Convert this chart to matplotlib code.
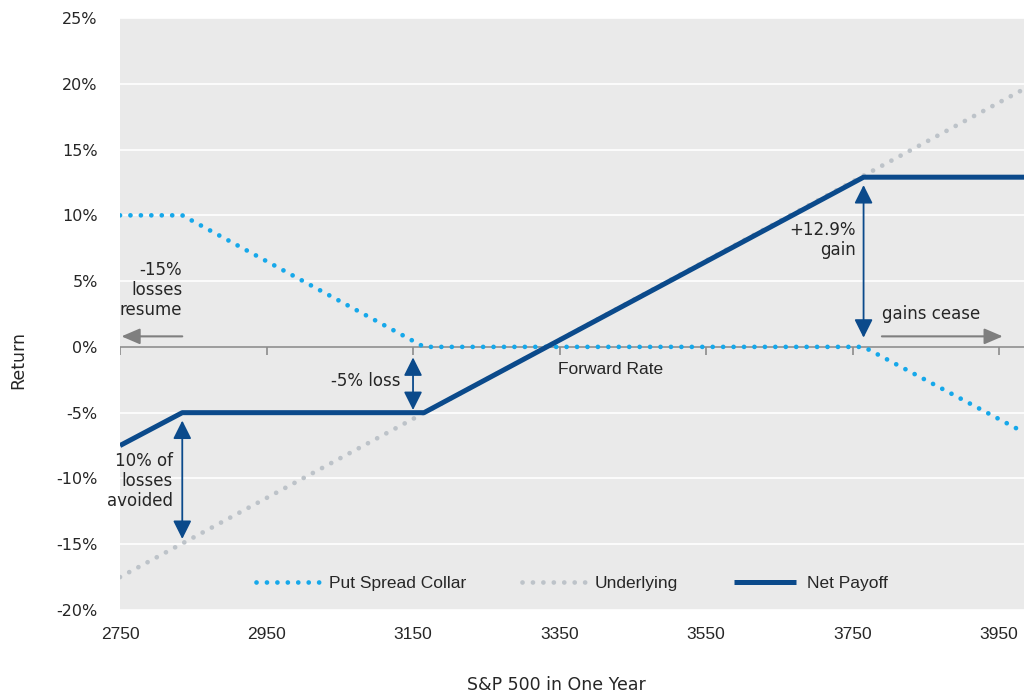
import matplotlib.pyplot as plt

# values (S&P 500 level, return in %)
underlying_x = [2750, 3984]
underlying_y = [-17.5, 19.6]
collar_x = [2750, 2835, 3165, 3765, 3984]
collar_y = [10, 10, 0, 0, -6.5]
payoff_x = [2750, 2835, 3165, 3765, 3984]
payoff_y = [-7.5, -5, -5, 12.9, 12.9]

x_ticks = [2750, 2950, 3150, 3350, 3550, 3750, 3950]
y_ticks = [-20, -15, -10, -5, 0, 5, 10, 15, 20, 25]

narrow = ['Liberation Sans', 'DejaVu Sans']
plt.rcParams['font.family'] = ['DejaVu Sans']

dark = '#0B4A8B'
light = '#16A8EA'
grey = '#BDC3C9'
arrow_grey = '#7F7F7F'
txt = '#262626'

fig = plt.figure(figsize=(10.24, 6.96), dpi=100)
ax = fig.add_axes([120 / 1024, 86 / 696, 904 / 1024, 592 / 696])
ax.set_facecolor('#EAEAEA')

for y in y_ticks:
    ax.axhline(y, color='white', lw=1.2, zorder=0)

ax.plot(collar_x, collar_y, color=light, lw=3.4, linestyle=(0, (0.01, 2.2)),
        dash_capstyle='round', label='Put Spread Collar', zorder=3)
ax.plot(underlying_x, underlying_y, color=grey, lw=3.4, linestyle=(0, (0.01, 2.2)),
        dash_capstyle='round', label='Underlying', zorder=2)
ax.plot(payoff_x, payoff_y, color=dark, lw=3.6, label='Net Payoff', zorder=4,
        solid_capstyle='butt')

ax.set_xlim(2750, 3984)
ax.set_ylim(-20, 25)

# axis line through zero with small ticks
ax.axhline(0, color='#8C8C8C', lw=1.2, zorder=1)
ax.vlines(x_ticks, -0.6, 0, color='#8C8C8C', lw=1.2, zorder=1)

ax.set_xticks(x_ticks)
ax.set_xticklabels([str(v) for v in x_ticks], fontfamily=narrow, fontsize=12.5, color=txt)
ax.set_yticks(y_ticks)
ax.set_yticklabels([f'{v}%' for v in y_ticks], fontsize=11.5, color=txt)
ax.tick_params(axis='both', length=0)
ax.tick_params(axis='y', pad=16)
ax.tick_params(axis='x', pad=12)
for s in ax.spines.values():
    s.set_visible(False)

fig.text(18 / 1024, 1 - 360 / 696, 'Return', rotation=90, ha='center', va='center',
         fontsize=12.5, color=txt)
fig.text(556 / 1024, 1 - 685 / 696, 'S&P 500 in One Year', ha='center', va='center',
         fontsize=12.5, color=txt)

# annotations
arrow_kw = dict(arrowstyle='<|-|>,head_length=0.7,head_width=0.35', color=dark, lw=1.3,
                mutation_scale=16, shrinkA=0, shrinkB=0)
ax.annotate('', xy=(2835, -5.6), xytext=(2835, -14.6), arrowprops=arrow_kw, zorder=5)
ax.annotate('', xy=(3150, -0.8), xytext=(3150, -4.8), arrowprops=arrow_kw, zorder=5)
ax.annotate('', xy=(3765, 12.3), xytext=(3765, 0.7), arrowprops=arrow_kw, zorder=5)

gkw = dict(arrowstyle='-|>,head_length=0.7,head_width=0.3', color=arrow_grey, lw=1.5,
           mutation_scale=16, shrinkA=0, shrinkB=0)
ax.annotate('', xy=(2752, 0.8), xytext=(2835, 0.8), arrowprops=gkw)
ax.annotate('', xy=(3955, 0.8), xytext=(3790, 0.8), arrowprops=gkw)

tkw = dict(fontsize=12, color=txt, linespacing=1.15)
ax.text(2835, 4.3, '-15%\nlosses\nresume', ha='right', va='center', **tkw)
ax.text(2822, -10.2, '10% of\nlosses\navoided', ha='right', va='center', **tkw)
ax.text(3133, -2.6, '-5% loss', ha='right', va='center', **tkw)
ax.text(3754, 8.1, '+12.9%\ngain', ha='right', va='center', **tkw)
ax.text(3790, 2.5, 'gains cease', ha='left', va='center', **tkw)
ax.text(3420, -1.7, 'Forward Rate', ha='center', va='center', fontfamily=narrow,
        fontsize=12.5, color=txt)

leg = ax.legend(loc='lower center', bbox_to_anchor=(0.5, 0.005), ncol=3, frameon=False,
                prop={'family': narrow, 'size': 12.5}, handlelength=3.6,
                columnspacing=3.2, handletextpad=0.6)
for t in leg.get_texts():
    t.set_color(txt)

fig.savefig('out.png', dpi=100)
